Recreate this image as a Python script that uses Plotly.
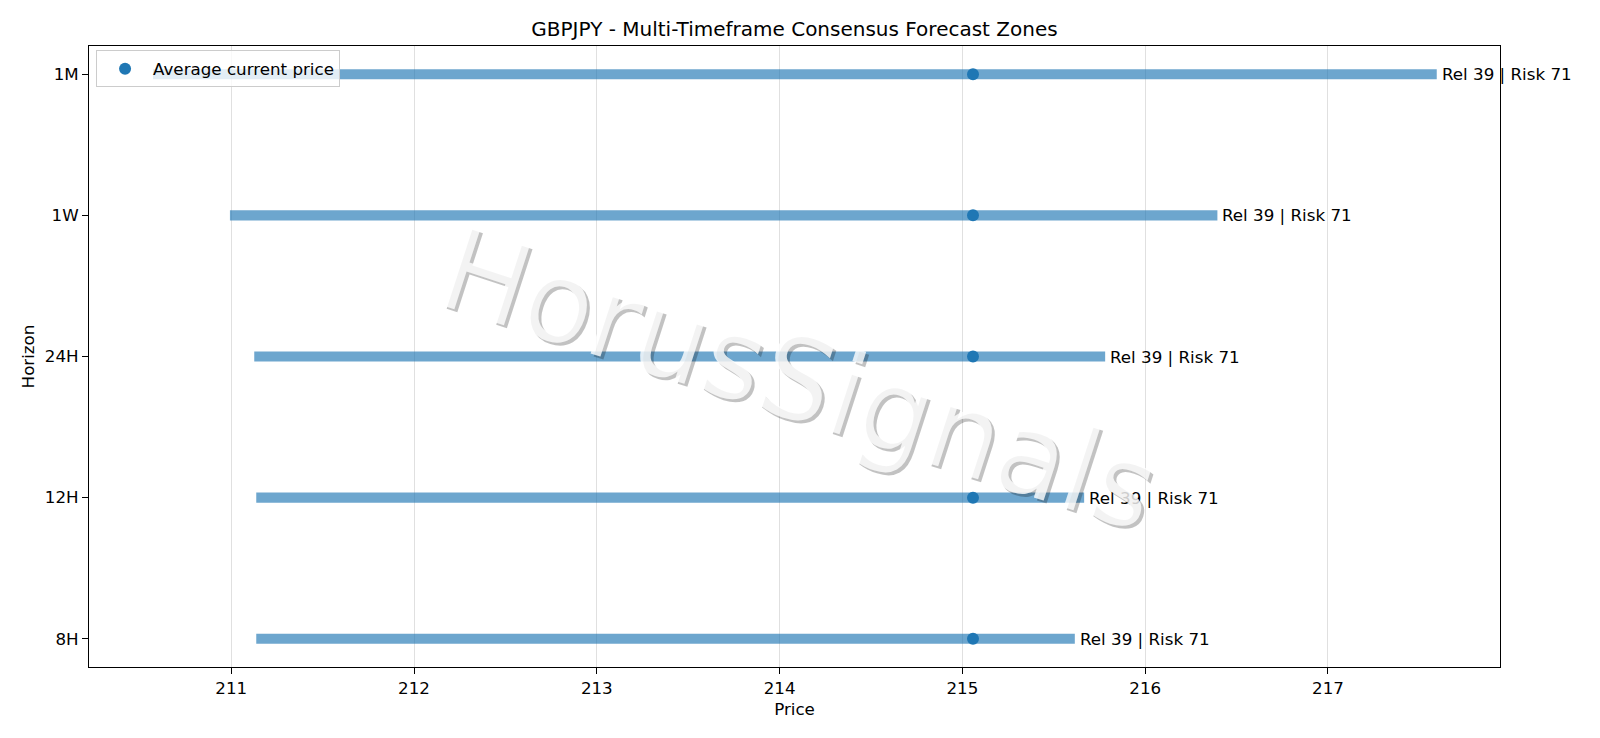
import plotly.graph_objects as go

# Horizons, bottom to top as on the chart
horizons = ["8H", "12H", "24H", "1W", "1M"]
zone_low = [211.137, 211.137, 211.126, 210.993, 210.572]
zone_high = [215.615, 215.666, 215.781, 216.395, 217.595]
current_price = [215.058, 215.058, 215.058, 215.058, 215.058]
reliability = [39, 39, 39, 39, 39]
risk = [71, 71, 71, 71, 71]

title = "GBPJPY - Multi-Timeframe Consensus Forecast Zones"
watermark = "HorusSignals"

FONT = "DejaVu Sans"
BLUE = "#1f77b4"
FS = 16.7

fig = go.Figure()

# forecast zones as thick horizontal bars
fig.add_trace(go.Bar(
    y=horizons,
    x=[hi - lo for lo, hi in zip(zone_low, zone_high)],
    base=zone_low,
    orientation="h",
    width=0.072,
    marker=dict(color="rgba(31,119,180,0.65)", line=dict(width=0)),
    showlegend=False,
    hoverinfo="skip",
))

fig.add_trace(go.Scatter(
    x=current_price,
    y=horizons,
    mode="markers",
    marker=dict(color=BLUE, size=12),
    name="Average current price",
))

# reliability / risk labels at the end of each zone
for h, hi, rel, rk in zip(horizons, zone_high, reliability, risk):
    fig.add_annotation(
        x=hi, y=h, text=f"Rel {rel} | Risk {rk}",
        xanchor="left", yanchor="middle", xshift=3,
        showarrow=False, font=dict(family=FONT, size=FS, color="black"),
    )

# watermark: grey shadow then white text on top
fig.add_annotation(
    x=0.503, y=0.463, xref="paper", yref="paper", text=watermark,
    textangle=18, showarrow=False, xshift=3, yshift=-3,
    font=dict(family=FONT, size=114, color="rgba(0,0,0,0.24)"),
)
fig.add_annotation(
    x=0.503, y=0.463, xref="paper", yref="paper", text=watermark,
    textangle=18, showarrow=False,
    font=dict(family=FONT, size=114, color="rgba(255,255,255,0.8)"),
)

axis_common = dict(
    showline=True, linecolor="black", linewidth=1, mirror=True,
    ticks="outside", ticklen=6, tickcolor="black", tickwidth=1,
    tickfont=dict(family=FONT, size=FS, color="black"),
    zeroline=False,
)

fig.update_layout(
    width=1600, height=738,
    margin=dict(l=89, r=100, t=46, b=71),
    paper_bgcolor="white", plot_bgcolor="white",
    font=dict(family=FONT, size=FS, color="black"),
    title=dict(text=title, x=0.5, xref="paper", y=1 - 29 / 738, yanchor="middle",
               font=dict(family=FONT, size=20, color="black")),
    barmode="overlay",
    legend=dict(
        x=0.005, y=0.993, xanchor="left", yanchor="top",
        bgcolor="rgba(255,255,255,0.8)", bordercolor="#cccccc", borderwidth=1,
        font=dict(family=FONT, size=FS, color="black"),
        itemwidth=46,
    ),
    xaxis=dict(
        range=[210.222, 217.941], dtick=1,
        showgrid=True, gridcolor="#e0e0e0", gridwidth=1,
        title=dict(text="Price", standoff=6, font=dict(family=FONT, size=FS)),
        **axis_common,
    ),
    yaxis=dict(
        type="category", categoryorder="array", categoryarray=horizons,
        range=[-0.2, 4.2], showgrid=False,
        title=dict(text="Horizon", standoff=6, font=dict(family=FONT, size=FS)),
        **axis_common,
    ),
)

# page body has a default margin; drop it so the figure sits at 0,0
fig.write_html("out.html", config={"displayModeBar": False},
               post_script="document.body.style.margin='0';")
